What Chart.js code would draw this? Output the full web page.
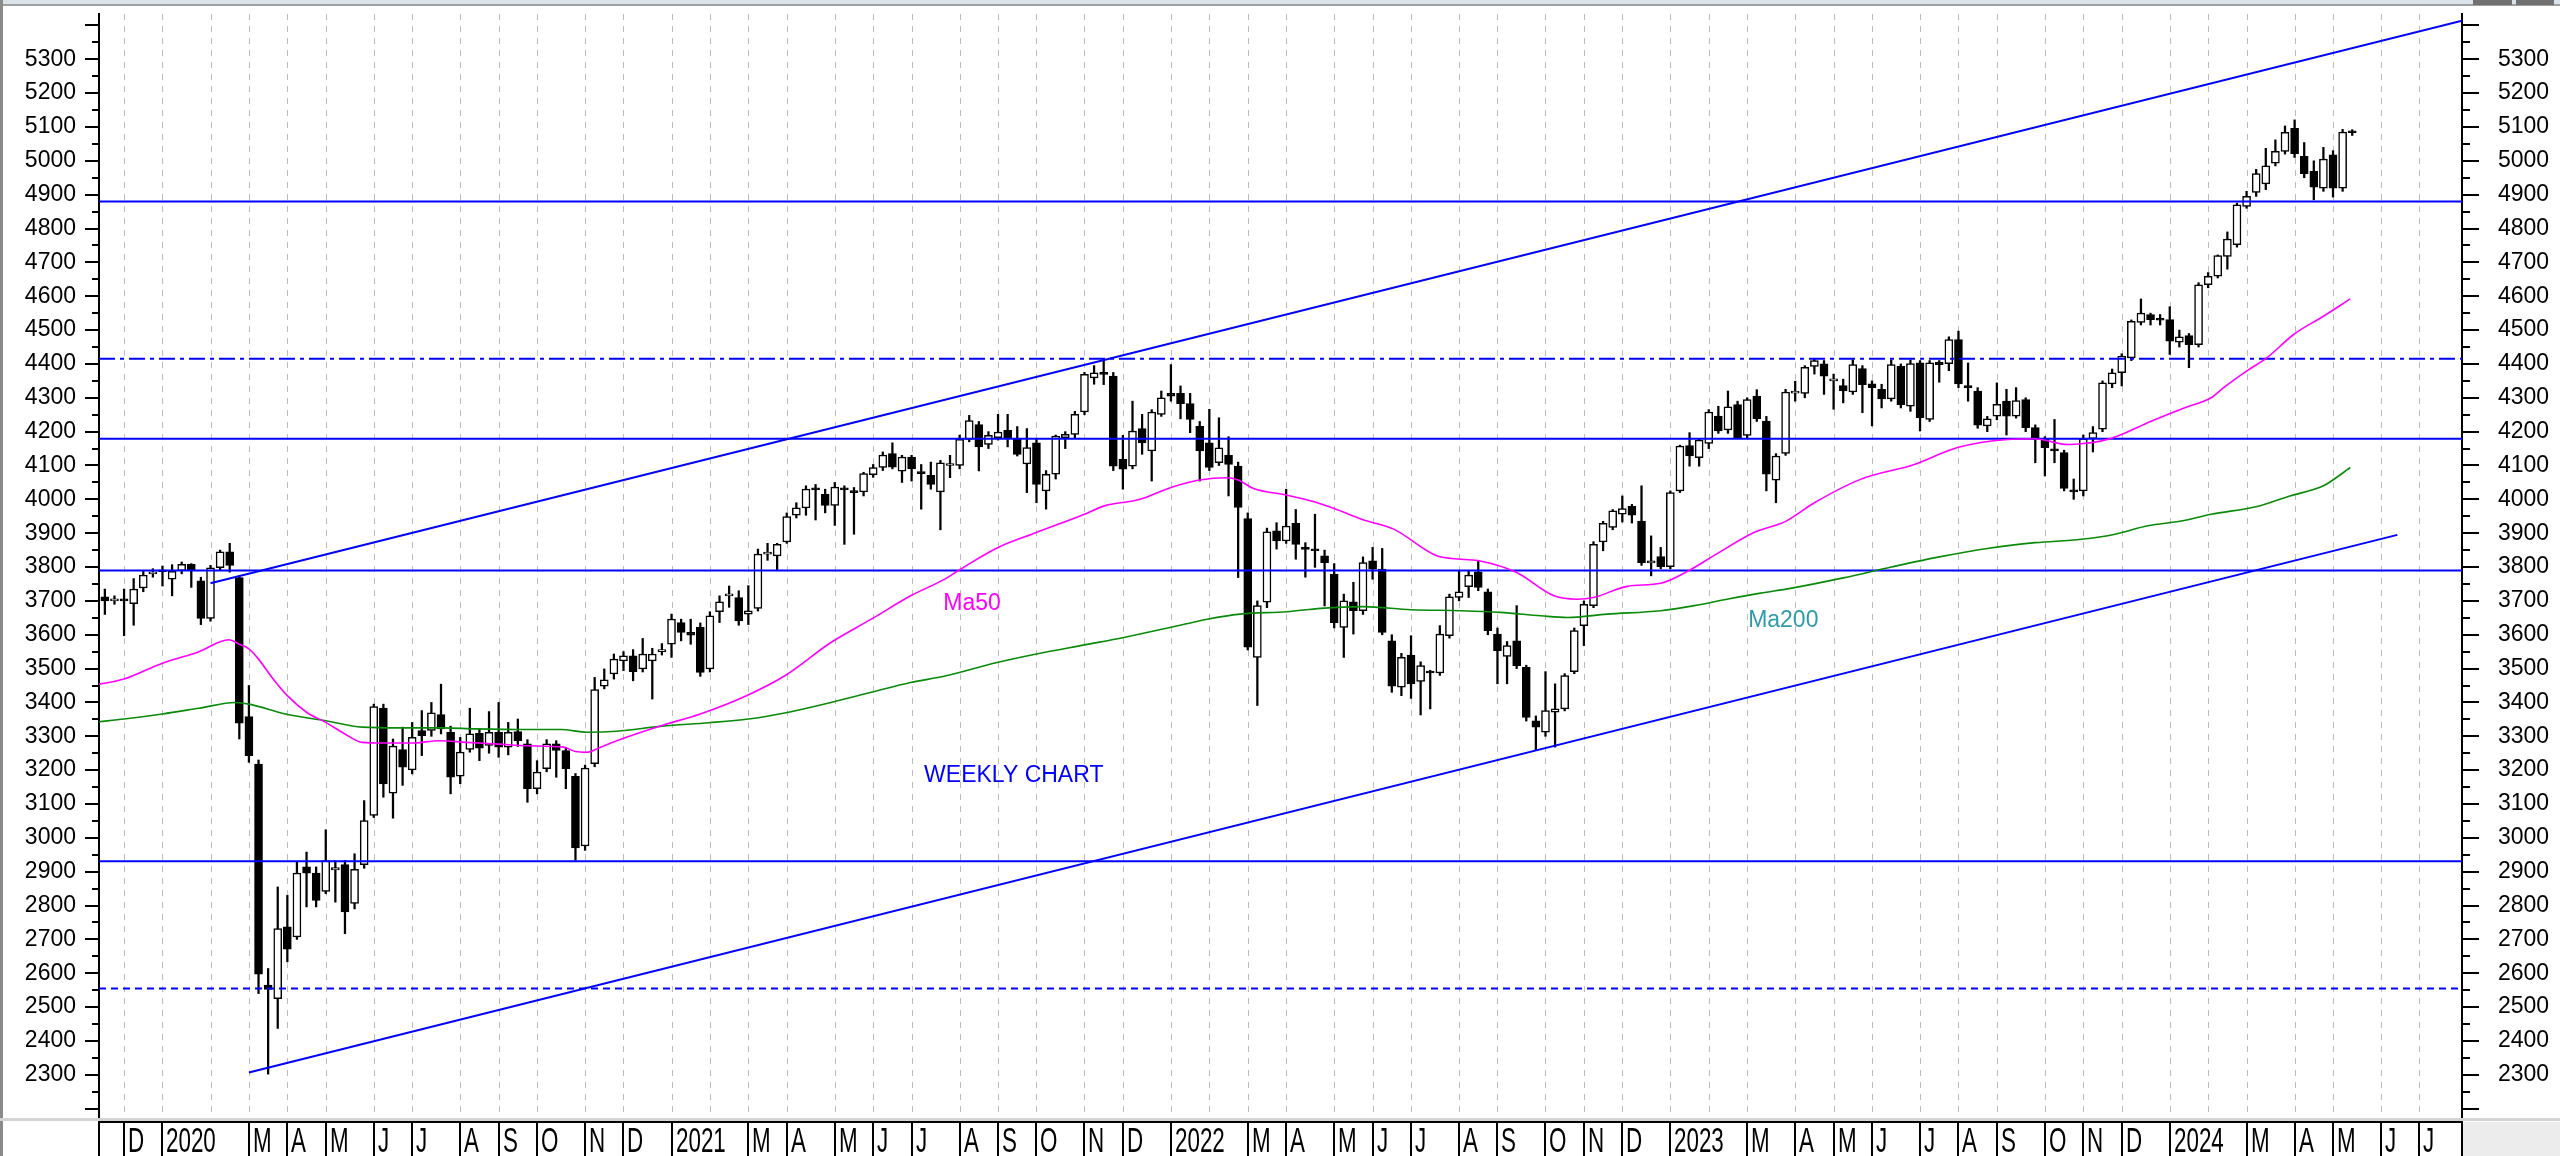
<!DOCTYPE html>
<html>
<head>
<meta charset="utf-8">
<script src="https://cdn.jsdelivr.net/npm/chart.js@4.4.1/dist/chart.umd.min.js"></script>
<style>
  html, body { margin: 0; padding: 0; background: #fff; }
  #wrap { width: 2560px; height: 1156px; position: relative; }
</style>
</head>
<body>
<div id="wrap"><canvas id="chart"></canvas></div>
<script>
'use strict';

// ── Weekly candles (index 0 = week ending 3 Jan 2020) ──────────
const firstWeek = -6;

const opens = [
  3712, 3700, 3702, 3692, 3738, 3780, 3786, 3764, 3789, 3808,
  3759, 3648, 3798, 3845, 3769, 3358, 3218, 2565, 2525, 2737,
  2707, 2914, 2896, 2842, 2905, 2921, 2806, 2921, 3066, 3383,
  3132, 3261, 3201, 3317, 3317, 3364, 3312, 3182, 3261, 3309,
  3273, 3312, 3268, 3314, 3278, 3145, 3204, 3278, 3258, 3182,
  2976, 3219, 3448, 3484, 3523, 3538, 3499, 3523, 3550, 3572,
  3636, 3607, 3622, 3499, 3668, 3715, 3710, 3661, 3678, 3838,
  3833, 3874, 3953, 3975, 4030, 4015, 3982, 4030, 4025, 4022,
  4073, 4094, 4135, 4083, 4125, 4082, 4071, 4022, 4100, 4100,
  4177, 4221, 4162, 4182, 4204, 4177, 4105, 4167, 4025, 4074,
  4182, 4192, 4258, 4359, 4374, 4364, 4118, 4098, 4209, 4143,
  4251, 4313, 4313, 4283, 4216, 4167, 4108, 4130, 4098, 3943,
  3533, 3696, 3907, 3877, 3929, 3858, 3852, 3833, 3779, 3622,
  3697, 3671, 3818, 3794, 3582, 3445, 3540, 3462, 3492, 3487,
  3597, 3710, 3742, 3786, 3727, 3602, 3536, 3582, 3504, 3346,
  3312, 3371, 3381, 3491, 3627, 3686, 3874, 3917, 3956, 3979,
  3936, 3812, 3831, 3801, 4025, 4159, 4123, 4165, 4246, 4205,
  4280, 4189, 4305, 4231, 4057, 4136, 4314, 4313, 4393, 4400,
  4350, 4336, 4317, 4386, 4341, 4325, 4297, 4393, 4275, 4403,
  4236, 4405, 4401, 4472, 4335, 4320, 4217, 4246, 4290, 4246,
  4295, 4212, 4177, 4148, 4138, 4025, 4025, 4179, 4207, 4341,
  4374, 4418, 4523, 4546, 4533, 4531, 4464, 4484, 4457, 4634,
  4659, 4718, 4752, 4865, 4907, 4932, 4993, 5028, 5096, 5013,
  4969, 4919, 5018, 4919, 5088
];
const highs = [
  3735, 3715, 3735, 3766, 3788, 3795, 3803, 3807, 3815, 3810,
  3770, 3805, 3850, 3870, 3775, 3450, 3230, 2614, 2855, 2830,
  2928, 2958, 2914, 3024, 2933, 2933, 2953, 3110, 3395, 3395,
  3292, 3327, 3341, 3376, 3400, 3454, 3330, 3297, 3383, 3322,
  3373, 3400, 3341, 3351, 3290, 3228, 3290, 3287, 3265, 3190,
  3215, 3474, 3499, 3543, 3550, 3556, 3589, 3560, 3574, 3661,
  3646, 3646, 3635, 3668, 3715, 3744, 3730, 3745, 3853, 3870,
  3870, 3960, 3990, 4040, 4044, 4030, 4050, 4040, 4035, 4080,
  4103, 4140, 4167, 4130, 4130, 4103, 4110, 4115, 4130, 4190,
  4248, 4230, 4200, 4251, 4251, 4215, 4209, 4177, 4085, 4190,
  4200, 4260, 4375, 4395, 4413, 4375, 4189, 4290, 4251, 4265,
  4320, 4398, 4335, 4313, 4230, 4266, 4241, 4185, 4110, 3960,
  3700, 3915, 3931, 4030, 3970, 3872, 3956, 3850, 3810, 3720,
  3755, 3830, 3858, 3855, 3600, 3545, 3597, 3520, 3495, 3627,
  3720, 3789, 3790, 3818, 3735, 3620, 3580, 3686, 3510, 3360,
  3491, 3455, 3485, 3620, 3700, 3875, 3935, 3970, 4010, 3985,
  4040, 3892, 3858, 4025, 4160, 4197, 4180, 4265, 4275, 4320,
  4290, 4300, 4324, 4245, 4135, 4325, 4349, 4395, 4415, 4410,
  4370, 4355, 4412, 4395, 4350, 4340, 4412, 4400, 4412, 4410,
  4410, 4410, 4480, 4497, 4403, 4330, 4245, 4344, 4325, 4330,
  4300, 4220, 4185, 4236, 4145, 4060, 4190, 4215, 4350, 4385,
  4430, 4530, 4592, 4550, 4546, 4569, 4500, 4490, 4640, 4670,
  4722, 4790, 4875, 4910, 4975, 5037, 5062, 5103, 5121, 5054,
  5000, 5040, 5030, 5093, 5092
];
const lows = [
  3660, 3690, 3597, 3628, 3727, 3770, 3744, 3715, 3780, 3740,
  3630, 3640, 3790, 3785, 3292, 3223, 2540, 2302, 2437, 2634,
  2700, 2796, 2796, 2835, 2810, 2717, 2790, 2910, 3060, 3120,
  3058, 3155, 3189, 3243, 3300, 3307, 3130, 3160, 3253, 3228,
  3250, 3238, 3245, 3270, 3105, 3130, 3195, 3179, 3145, 2934,
  2963, 3210, 3440, 3469, 3494, 3464, 3490, 3410, 3540, 3533,
  3582, 3572, 3477, 3490, 3636, 3681, 3628, 3630, 3670, 3820,
  3789, 3870, 3945, 3953, 3939, 3960, 3923, 3867, 3897, 4010,
  4065, 4085, 4090, 4050, 4054, 3971, 4030, 3910, 4064, 4090,
  4170, 4084, 4150, 4175, 4155, 4128, 4020, 3990, 3971, 4060,
  4150, 4180, 4250, 4340, 4339, 4085, 4030, 4090, 4133, 4054,
  4245, 4290, 4238, 4197, 4054, 4085, 4100, 4010, 3769, 3555,
  3391, 3680, 3853, 3870, 3823, 3770, 3799, 3685, 3620, 3533,
  3602, 3660, 3764, 3600, 3430, 3420, 3412, 3363, 3381, 3480,
  3590, 3700, 3710, 3730, 3600, 3455, 3455, 3500, 3345, 3258,
  3300, 3268, 3375, 3485, 3568, 3680, 3848, 3910, 3933, 3930,
  3805, 3774, 3795, 3795, 4020, 4098, 4098, 4150, 4195, 4195,
  4180, 4180, 4230, 4025, 3990, 4130, 4290, 4300, 4370, 4310,
  4266, 4285, 4310, 4256, 4217, 4270, 4290, 4270, 4260, 4202,
  4230, 4346, 4380, 4330, 4290, 4210, 4200, 4235, 4190, 4240,
  4200, 4108, 4069, 4108, 4025, 4000, 4010, 4140, 4200, 4330,
  4335, 4410, 4515, 4515, 4515, 4428, 4450, 4389, 4450, 4625,
  4654, 4680, 4745, 4860, 4895, 4915, 4985, 5020, 5010, 4950,
  4885, 4910, 4893, 4910, 5075
];
const closes = [
  3700, 3702, 3700, 3735, 3776, 3784, 3789, 3787, 3808, 3789,
  3648, 3798, 3845, 3805, 3339, 3243, 2597, 2552, 2732, 2671,
  2896, 2896, 2815, 2933, 2912, 2781, 2907, 3051, 3388, 3159,
  3271, 3209, 3297, 3302, 3369, 3322, 3179, 3253, 3307, 3265,
  3312, 3268, 3312, 3287, 3145, 3194, 3278, 3258, 3204, 2970,
  3206, 3438, 3467, 3528, 3538, 3491, 3543, 3543, 3556, 3646,
  3607, 3599, 3489, 3656, 3697, 3717, 3641, 3671, 3838, 3843,
  3867, 3949, 3975, 4030, 4028, 3982, 4036, 4028, 4020, 4076,
  4094, 4131, 4095, 4125, 4090, 4076, 4044, 4108, 4103, 4177,
  4233, 4155, 4189, 4199, 4182, 4133, 4153, 4044, 4074, 4187,
  4192, 4251, 4369, 4374, 4369, 4098, 4089, 4202, 4167, 4258,
  4300, 4305, 4283, 4236, 4143, 4094, 4152, 4103, 3976, 3563,
  3686, 3904, 3877, 3921, 3867, 3852, 3848, 3813, 3636, 3700,
  3671, 3813, 3794, 3607, 3448, 3533, 3455, 3509, 3487, 3602,
  3712, 3727, 3776, 3740, 3612, 3553, 3568, 3509, 3356, 3327,
  3376, 3381, 3479, 3612, 3690, 3867, 3929, 3966, 3973, 3953,
  3813, 3818, 3801, 4020, 4157, 4128, 4175, 4258, 4202, 4273,
  4182, 4295, 4238, 4074, 4128, 4317, 4319, 4390, 4410, 4364,
  4351, 4320, 4398, 4339, 4330, 4297, 4398, 4280, 4401, 4241,
  4403, 4398, 4472, 4341, 4330, 4219, 4238, 4281, 4246, 4292,
  4212, 4177, 4153, 4143, 4032, 4022, 4179, 4197, 4344, 4374,
  4423, 4526, 4550, 4531, 4529, 4467, 4480, 4457, 4634, 4659,
  4720, 4769, 4870, 4895, 4962, 4985, 5028, 5084, 5021, 4962,
  4922, 5005, 4919, 5085, 5083
];

// ── Moving averages ────────────────────────────────────────────
const ma50Weeks = [-6.6, -4, 0, 3.8, 6.9, 8, 9, 10, 11.4, 13, 15, 17, 19, 20.8, 23, 26, 28.8, 31.6, 35, 38,
  41.8, 43, 44.2, 45.4, 47.3, 52, 56, 60.8, 64.8, 69.6, 73.8, 77.9, 81.5, 83, 87, 91, 96, 98, 101.8, 105,
  108, 110.8, 112, 113.6, 117, 120, 122, 125, 128.2, 132.7, 135.2, 137.2, 141, 144.9, 147.3, 149, 152.5, 156, 158.9, 161.5,
  165.7, 169, 172, 176.8, 182.4, 186.9, 192.1, 194.9, 198.4, 200, 201.8, 203.6, 207, 210.5, 213.3, 214.6, 217, 219.1, 221.9, 225, 227.8];
const ma50Values = [3454, 3469, 3516, 3550, 3585, 3572, 3558, 3528, 3474, 3420, 3371, 3341, 3307, 3282, 3280, 3280, 3287, 3282, 3277, 3272,
  3268, 3255, 3253, 3265, 3287, 3332, 3366, 3420, 3479, 3577, 3646, 3715, 3765, 3792, 3858, 3902, 3956, 3980, 4000, 4035,
  4057, 4064, 4057, 4032, 4013, 3992, 3973, 3940, 3912, 3833, 3823, 3818, 3784, 3715, 3705, 3710, 3743, 3752, 3789, 3833,
  3902, 3935, 3990, 4059, 4103, 4153, 4177, 4179, 4162, 4165, 4172, 4187, 4230, 4270, 4300, 4330, 4379, 4418, 4487, 4541, 4592];

const ma200Weeks = [-6.6, -4, 0, 3.8, 7.6, 9, 12.8, 17, 20.8, 24.6, 29.1, 32.6, 38, 41.5, 44.2, 47.3, 52, 56.9, 61, 64.8,
  69.6, 73.8, 77.9, 81.5, 86.9, 91, 96, 100.1, 105, 108.8, 112.2, 117.1, 120.6, 125, 130, 135.2, 139.3, 143.5, 146.3, 150.4,
  156, 159.5, 162.9, 166.4, 169.5, 175, 180, 185, 190, 195, 199.8, 203.3, 206.7, 210.2, 213.3, 218.1, 221.5, 225, 227.8];
const ma200Values = [3343, 3351, 3366, 3383, 3400, 3395, 3366, 3346, 3327, 3325, 3325, 3322, 3320, 3320, 3312, 3315, 3330, 3340, 3351, 3369,
  3400, 3430, 3459, 3478, 3518, 3543, 3570, 3592, 3622, 3646, 3661, 3668, 3678, 3683, 3674, 3671, 3666, 3656, 3651, 3661,
  3671, 3686, 3705, 3723, 3737, 3768, 3800, 3830, 3855, 3872, 3882, 3897, 3922, 3936, 3956, 3979, 4010, 4040, 4094];

// ── Support / resistance levels and channel ────────────────────
const levelValues = [4880, 4415, 4179, 3790, 2931, 2555];
const upperTrendWeeks = [5, 239.43];
const upperTrendValues = [3752, 5414];
const lowerTrendWeeks = [9, 232.7];
const lowerTrendValues = [2307, 3895];

// ── Axis: first weekly bar of each month ───────────────────────
const monthWeeks = [-4, 0, 5, 9, 13, 17, 22, 26, 31, 35, 39, 44, 48,
  53, 57, 61, 65, 70, 74, 78, 83, 87, 91, 96, 100,
  105, 109, 113, 117, 122, 126, 130, 135, 139, 144, 148, 152,
  157, 161, 165, 170, 174, 178, 183, 187, 191, 196, 200, 204,
  209, 213, 217, 222, 226, 231, 235];
const monthLabels = ['D', '2020', '', 'M', 'A', 'M', 'J', 'J', 'A', 'S', 'O', 'N', 'D',
  '2021', '', 'M', 'A', 'M', 'J', 'J', 'A', 'S', 'O', 'N', 'D',
  '2022', '', 'M', 'A', 'M', 'J', 'J', 'A', 'S', 'O', 'N', 'D',
  '2023', '', 'M', 'A', 'M', 'J', 'J', 'A', 'S', 'O', 'N', 'D',
  '2024', '', 'M', 'A', 'M', 'J', 'J'];

// Text notes on the chart
const noteTexts  = ['Ma50', 'Ma200', 'WEEKLY CHART'];
const noteWeeks  = [81.3, 165.1, 79.3];
const noteValues = [3691, 3641, 3183];

const X_MIN = -6.61, X_MAX = 239.43;
const Y_MIN = 2163.5, Y_MAX = 5433.8;

const FONT = '"Liberation Sans", Arial, sans-serif';
const BLUE = '#0000ff';

const weekX = closes.map((_, k) => firstWeek + k);
const isUp = k => closes[k] >= opens[k];
const pts = (xs, ys) => xs.map((x, k) => ({ x, y: ys[k] }));

const levelDash = [[], [16, 5, 4, 5], [], [], [], [7, 5]];

const levelSets = levelValues.map((v, k) => ({
  type: 'line',
  data: [{ x: X_MIN, y: v }, { x: X_MAX, y: v }],
  borderColor: BLUE,
  borderWidth: 2,
  borderDash: levelDash[k],
  pointRadius: 0,
  order: 0,
}));

const yLabel = v => (v % 100 === 0 && v >= 2300 && v <= 5300) ? String(v) : '';

// keep the scales from pushing the plot area around
const noPad = s => { s.paddingTop = 0; s.paddingBottom = 0; s.paddingLeft = 0; s.paddingRight = 0; };

// ── Plugin: background, month grid, ticks, bottom panel, notes ─
const framePlugin = {
  id: 'frame',
  beforeDraw(chart) {
    const { ctx, width, height } = chart;
    ctx.save();
    ctx.fillStyle = '#ffffff';
    ctx.fillRect(0, 0, width, height);
    ctx.restore();
  },
  beforeDatasetsDraw(chart) {
    const { ctx, chartArea: a, scales: { x } } = chart;
    ctx.save();
    ctx.strokeStyle = '#bdbdbd';
    ctx.lineWidth = 1;
    ctx.setLineDash([6, 6]);
    monthWeeks.forEach(w => {
      const px = Math.round(x.getPixelForValue(w)) + 0.5;
      ctx.beginPath();
      ctx.moveTo(px, a.top);
      ctx.lineTo(px, a.bottom);
      ctx.stroke();
    });
    ctx.restore();
  },
  afterDatasetsDraw(chart) {
    const { ctx, scales: { x, y } } = chart;
    const colors = ['#ff00ff', '#2f9ba8', BLUE];
    ctx.save();
    ctx.font = '23px ' + FONT;
    ctx.textAlign = 'left';
    ctx.textBaseline = 'middle';
    noteTexts.forEach((t, k) => {
      ctx.fillStyle = colors[k];
      ctx.fillText(t, x.getPixelForValue(noteWeeks[k]), y.getPixelForValue(noteValues[k]));
    });
    ctx.restore();
  },
  afterDraw(chart) {
    const { ctx, chartArea: a, scales: { x, y }, width, height } = chart;
    ctx.save();

    // y ticks, both sides
    ctx.strokeStyle = '#000';
    ctx.lineWidth = 2;
    y.ticks.forEach(t => {
      const py = Math.round(y.getPixelForValue(t.value));
      const major = t.value % 100 === 0;
      ctx.beginPath();
      ctx.moveTo(a.left - (major ? 14 : 7), py);
      ctx.lineTo(a.left, py);
      ctx.moveTo(a.right, py);
      ctx.lineTo(a.right + (major ? 17 : 8), py);
      ctx.stroke();
    });

    // window chrome
    ctx.fillStyle = '#dae2ea';
    ctx.fillRect(0, 0, width, 4);
    ctx.fillStyle = '#a0a0a0';
    ctx.fillRect(0, 4, width, 2);
    ctx.fillStyle = '#707070';
    ctx.fillRect(2473, 0, 39, 5);
    ctx.fillRect(2516, 0, 38, 5);
    ctx.fillStyle = '#8a8a8a';
    ctx.fillRect(0, 0, 3, height);

    // bottom date panel
    const top = a.bottom;
    ctx.fillStyle = '#ffffff';
    ctx.fillRect(3, top, width - 3, height - top);
    ctx.fillStyle = '#d4d4d4';
    ctx.fillRect(0, top - 3, width, 3);
    ctx.fillStyle = '#ececec';
    ctx.fillRect(a.right + 1, top + 1, width - a.right - 1, height - top);
    ctx.fillStyle = '#000';
    ctx.fillRect(a.left - 1, top, a.right - a.left + 2, 2);

    const seps = [a.left];
    monthWeeks.forEach((w, k) => { if (monthLabels[k]) seps.push(x.getPixelForValue(w)); });
    seps.push(a.right);
    seps.forEach(px => ctx.fillRect(Math.round(px) - 1, top, 2, height - top));

    ctx.font = '35px ' + FONT;
    ctx.textAlign = 'left';
    ctx.textBaseline = 'alphabetic';
    monthWeeks.forEach((w, k) => {
      if (!monthLabels[k]) return;
      ctx.save();
      ctx.translate(Math.round(x.getPixelForValue(w)) + 4, height - 4);
      ctx.scale(0.64, 1);
      ctx.fillText(monthLabels[k], 0, 0);
      ctx.restore();
    });
    ctx.restore();
  }
};

const yAxis = (position, width, padding) => ({
  type: 'linear',
  position,
  min: Y_MIN,
  max: Y_MAX,
  afterFit: s => { s.width = width; noPad(s); },
  ticks: {
    stepSize: 50,
    autoSkip: false,
    includeBounds: false,
    padding,
    color: '#000',
    font: { family: FONT, size: 23 },
    callback: v => yLabel(v),
  },
  grid: { display: false, drawTicks: false },
  border: { display: true, color: '#000', width: 2 },
});

new Chart(document.getElementById('chart'), {
  type: 'bar',
  data: {
    datasets: [
      {
        type: 'line',
        data: pts(ma50Weeks, ma50Values),
        borderColor: '#ff00ff',
        borderWidth: 1.6,
        pointRadius: 0,
        cubicInterpolationMode: 'monotone',
        order: 0,
      },
      {
        type: 'line',
        data: pts(ma200Weeks, ma200Values),
        borderColor: '#0a8a0a',
        borderWidth: 1.6,
        pointRadius: 0,
        cubicInterpolationMode: 'monotone',
        order: 0,
      },
      ...levelSets,
      {
        type: 'line',
        data: pts(upperTrendWeeks, upperTrendValues),
        borderColor: BLUE,
        borderWidth: 2,
        pointRadius: 0,
        order: 0,
      },
      {
        type: 'line',
        data: pts(lowerTrendWeeks, lowerTrendValues),
        borderColor: BLUE,
        borderWidth: 2,
        pointRadius: 0,
        order: 0,
      },
      {
        // candle bodies
        type: 'bar',
        data: weekX.map((w, k) => ({ x: w, y: [opens[k], closes[k]] })),
        grouped: false,
        barThickness: 8,
        minBarLength: 2,
        borderWidth: 1.5,
        borderSkipped: false,
        borderColor: '#000',
        backgroundColor: c => isUp(c.dataIndex) ? '#ffffff' : '#000000',
        order: 1,
      },
      {
        // wicks
        type: 'bar',
        data: weekX.map((w, k) => ({ x: w, y: [lows[k], highs[k]] })),
        grouped: false,
        barThickness: 1.6,
        borderWidth: 0,
        backgroundColor: '#000',
        order: 2,
      },
    ]
  },
  options: {
    responsive: true,
    maintainAspectRatio: false,
    animation: false,
    devicePixelRatio: 1,
    events: [],
    layout: { padding: { top: 14, left: 0, right: 0, bottom: 0 } },
    plugins: { legend: { display: false }, tooltip: { enabled: false } },
    scales: {
      x: {
        type: 'linear',
        offset: false,
        min: X_MIN,
        max: X_MAX,
        afterFit: s => { s.height = 35; noPad(s); },
        afterBuildTicks: s => { s.ticks = monthWeeks.map(v => ({ value: v })); },
        ticks: { display: false },
        grid: { display: false, drawTicks: false, offset: false },
        border: { display: false },
      },
      y: yAxis('left', 99, 23),
      y2: yAxis('right', 98, 36),
    }
  },
  plugins: [framePlugin]
});
</script>
</body>
</html>
